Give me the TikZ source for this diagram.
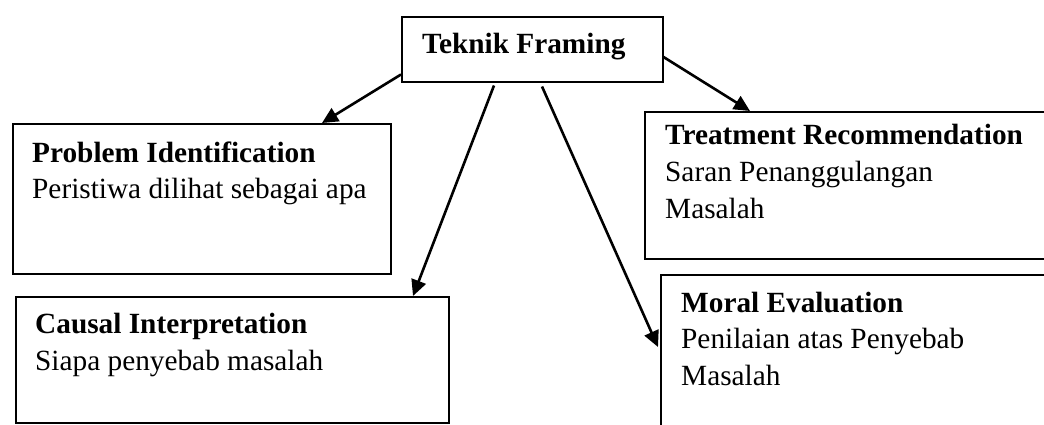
\documentclass[tikz,border=0pt]{standalone}
\usepackage{fontspec}
\setmainfont{Liberation Serif}
\usetikzlibrary{arrows.meta,calc}
\begin{document}
\begin{tikzpicture}[x=1pt,y=-1pt,
  box/.style={draw,line width=1.5pt,rectangle,inner sep=0pt,anchor=north west},
  txt/.style={anchor=base west,inner sep=0pt,font=\fontsize{29.3}{36}\selectfont},
  btxt/.style={txt,font=\fontsize{29.3}{36}\selectfont\bfseries},
  conn/.style={line width=2.6pt,-{Triangle[length=16pt,width=15pt]}}]
\clip (0,0) rectangle (1044,424);
\fill[white] (0,0) rectangle (1044,424);
% boxes
\node[box,minimum width=261pt,minimum height=65pt] (top) at (401,16) {};
\node[box,minimum width=378pt,minimum height=150pt] (pi) at (12,123) {};
\node[box,minimum width=433pt,minimum height=126pt] (ci) at (15,296) {};
\node[box,minimum width=420pt,minimum height=147pt] (tr) at (644,111) {};
\node[box,minimum width=420pt,minimum height=170pt] (me) at (660,274) {};
% texts
\node[btxt] (t0) at (422,53) {Teknik Framing};
\node[btxt] (t1a) at (32,162) {Problem Identification};
\node[txt] (t1b) at (32,198) {Peristiwa dilihat sebagai apa};
\node[btxt] (t2a) at (35,333) {Causal Interpretation};
\node[txt] (t2b) at (35,370) {Siapa penyebab masalah};
\node[btxt] (t3a) at (665,144) {Treatment Recommendation};
\node[txt] (t3b) at (665,181.5) {Saran Penanggulangan};
\node[txt] (t3c) at (665,218.5) {Masalah};
\node[btxt] (t4a) at (681,312) {Moral Evaluation};
\node[txt] (t4b) at (681,348.5) {Penilaian atas Penyebab};
\node[txt] (t4c) at (681,385) {Masalah};
% connectors
\draw[conn] ($(top.south west)+(0,-8)$) -- ($(pi.north west)+(310,0)$);
\draw[conn] ($(top.south west)+(93,3)$) -- ($(ci.north west)+(398,0)$);
\draw[conn] ($(top.south west)+(141,4)$) -- ($(me.north west)+(-2,73)$);
\draw[conn] ($(top.north east)+(0,41)$) -- ($(tr.north west)+(106,0)$);
\end{tikzpicture}
\end{document}
